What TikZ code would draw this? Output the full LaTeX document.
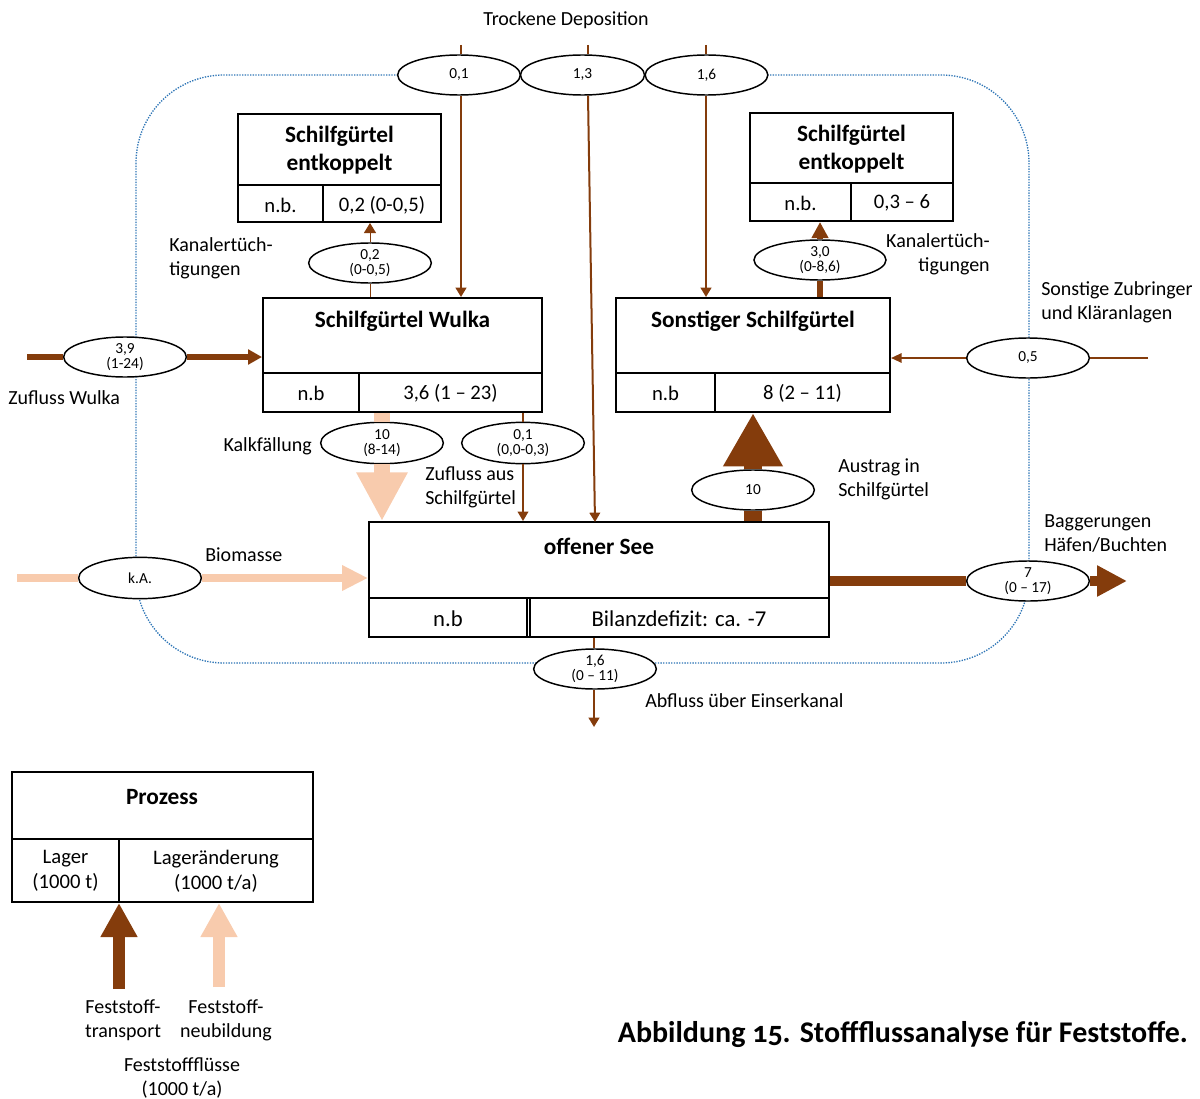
\documentclass[tikz,border=0pt]{standalone}
\usepackage{fontspec}
\setmainfont{Carlito}
\usetikzlibrary{arrows.meta,fit,shapes.geometric}

\definecolor{flowbrown}{HTML}{843C0C}
\definecolor{flowpeach}{HTML}{F8CBAD}
\definecolor{sysblue}{HTML}{2E75B6}

\tikzset{
  boxframe/.style={draw, line width=1.5pt, inner sep=0pt},
  boxline/.style={line width=1.5pt},
  boxtitle/.style={font=\fontsize{17.5}{21}\selectfont\bfseries, align=center, inner sep=0pt},
  boxcell/.style={font=\fontsize{15.5}{18.5}\selectfont, align=center, inner sep=0pt},
  flowval/.style={ellipse, draw, fill=white, line width=1.1pt, minimum width=92pt,
    minimum height=30pt, inner sep=0pt, align=center, font=\fontsize{11.5}{11}\selectfont},
  lbl/.style={font=\fontsize{15}{18}\selectfont, inner sep=0pt},
  sysborder/.style={draw=sysblue, line width=1pt, dash pattern=on 1pt off 1pt, rounded corners=66pt},
  thinflow/.style={draw=flowbrown, line width=1.5pt},
  thinnest/.style={draw=flowbrown, line width=0.75pt},
  thinhead/.style={-{Triangle[width=8pt,length=7pt]}},
  smallhead/.style={-{Triangle[width=9pt,length=7.5pt]}},
}

\begin{document}
\begin{tikzpicture}[x=0.75pt,y=-0.75pt]
\useasboundingbox (0,0) rectangle (1200,1099);

% system boundary
\draw[sysborder] (136,75) rectangle (1029,663);

% ---------- processes ----------
% Schilfguertel entkoppelt (left)
\node[boxframe, fit={(238,114)(441,222)}] (entkL) {};
\draw[boxline] (238,185) -- (441,185) (323,185) -- (323,222);
\node[boxtitle] (entkLt) at (339.5,150) {Schilfgürtel\\entkoppelt};
\node[boxcell] (entkLa) at (280.5,205) {n.b.};
\node[boxcell] (entkLb) at (382,205) {0,2 (0-0,5)};

% Schilfguertel entkoppelt (right)
\node[boxframe, fit={(750,113)(953,221)}] (entkR) {};
\draw[boxline] (750,183) -- (953,183) (851,183) -- (851,221);
\node[boxtitle] (entkRt) at (851.5,149) {Schilfgürtel\\entkoppelt};
\node[boxcell] (entkRa) at (800.5,203) {n.b.};
\node[boxcell] (entkRb) at (902,203) {0,3 – 6};

% Schilfguertel Wulka
\node[boxframe, fit={(263,298)(542,412)}] (wulka) {};
\draw[boxline] (263,373) -- (542,373) (359,373) -- (359,412);
\node[boxtitle] (wulkat) at (402.5,321) {Schilfgürtel Wulka};
\node[boxcell] (wulkaa) at (311,393) {n.b};
\node[boxcell] (wulkab) at (450.5,393) {3,6 (1 – 23)};

% Sonstiger Schilfguertel
\node[boxframe, fit={(616,298)(890,412)}] (sonst) {};
\draw[boxline] (616,373) -- (890,373) (715,373) -- (715,412);
\node[boxtitle] (sonstt) at (753,321) {Sonstiger Schilfgürtel};
\node[boxcell] (sonsta) at (665.5,393) {n.b};
\node[boxcell] (sonstb) at (802.5,393) {8 (2 – 11)};

% offener See
\node[boxframe, fit={(369,522)(829,637)}] (see) {};
\draw[boxline] (369,598) -- (829,598);
\draw[line width=1pt] (527,598) -- (527,637) (530,598) -- (530,637);
\node[boxtitle] (seet) at (599,546) {offener See};
\node[boxcell, font=\fontsize{17}{20}\selectfont] (seea) at (448,619) {n.b};
\node[boxcell, font=\fontsize{17}{20}\selectfont] (seeb) at (679,619) {Bilanzdefizit: ca. -7};

% ---------- flow values ----------
\node[flowval, minimum width=92pt] (e01) at (459,75) {0,1};
\node[flowval, minimum width=93pt] (e13) at (582.5,75) {1,3};
\node[flowval, minimum width=92pt] (e16) at (706.5,75) {1,6};
\node[flowval] (eKanL) at (370,263) {0,2\\(0-0,5)};
\node[flowval, minimum width=99pt] (eKanR) at (820,260) {3,0\\(0-8,6)};
\node[flowval] (eWulka) at (125,357) {3,9\\(1-24)};
\node[flowval, minimum height=31pt] (eKalk) at (382,443) {10\\(8-14)};
\node[flowval, minimum height=31pt] (eZuS) at (523,443) {0,1\\(0,0-0,3)};
\node[flowval] (eSonst) at (1028,358) {0,5};
\node[flowval] (eAustrag) at (753,490) {10};
\node[flowval, minimum height=31pt] (eBio) at (140,578) {k.A.};
\node[flowval] (eBagger) at (1028,581) {7\\(0 – 17)};
\node[flowval] (eAbfluss) at (595,669) {1,6\\(0 – 11)};

% ---------- connectors ----------
\coordinate (dep01) at (461,45);
\coordinate (dep13) at (588,45);
\coordinate (dep16) at (706,45);
\coordinate (lake13) at (595,522);

% dry deposition
\draw[thinflow] (dep01) -- (dep01 |- e01.north);
\draw[thinflow, thinhead] (dep01 |- e01.south) -- (dep01 |- wulka.north);
\draw[thinflow] (dep13) -- (dep13 |- e13.north);
\draw[thinflow, thinhead] (dep13 |- e13.south) -- (lake13);
\draw[thinflow] (dep16) -- (dep16 |- e16.north);
\draw[thinflow, thinhead] (dep16 |- e16.south) -- (dep16 |- sonst.north);

% channel upgrades
\draw[thinnest] (eKanL.south |- wulka.north) -- (eKanL.south);
\draw[thinnest, smallhead] (eKanL.north) -- (eKanL.north |- entkL.south);
\draw[draw=flowbrown, line width=4.5pt] (eKanR.south |- sonst.north) -- (eKanR.south);
\draw[draw=flowbrown, line width=4.5pt, -{Triangle[width=12pt,length=12pt]}] (eKanR.north) -- (eKanR.north |- entkR.south);

% inflow Wulka
\coordinate (wulkaIn) at (27,357);
\draw[draw=flowbrown, line width=4pt] (wulkaIn) -- (eWulka.west);
\draw[draw=flowbrown, line width=4pt, -{Triangle[width=11pt,length=10.5pt]}] (eWulka.east) -- (eWulka.east -| wulka.west);

% other tributaries
\coordinate (sonstIn) at (1148,358);
\draw[thinflow] (sonstIn) -- (eSonst.east);
\draw[thinflow, -{Triangle[width=7pt,length=8pt]}] (eSonst.west) -- (eSonst.west -| sonst.east);

% lime precipitation
\draw[draw=flowpeach, line width=12pt] (eKalk.north |- wulka.south) -- (eKalk.north);
\draw[draw=flowpeach, line width=12pt, -{Triangle[width=36pt,length=36.5pt]}] (eKalk.south) -- (eKalk.south |- see.north);

% inflow from reed belt
\draw[draw=flowbrown, line width=1pt] (eZuS.north |- wulka.south) -- (eZuS.north);
\draw[draw=flowbrown, line width=1pt, thinhead] (eZuS.south) -- (eZuS.south |- see.north);

% export into reed belt
\draw[draw=flowbrown, line width=13.5pt] (eAustrag.south |- see.north) -- (eAustrag.south);
\draw[draw=flowbrown, line width=13.5pt, -{Triangle[width=42pt,length=40pt]}] (eAustrag.north) -- (eAustrag.north |- sonst.south);

% biomass
\coordinate (bioIn) at (17,578);
\draw[draw=flowpeach, line width=6pt] (bioIn) -- (eBio.west);
\draw[draw=flowpeach, line width=6pt, -{Triangle[width=18pt,length=19.5pt]}] (eBio.east) -- (eBio.east -| see.west);

% dredging
\coordinate (baggerOut) at (1127,581);
\draw[draw=flowbrown, line width=7.5pt] (eBagger.west -| see.east) -- (eBagger.west);
\draw[draw=flowbrown, line width=7.5pt, -{Triangle[width=22pt,length=22.5pt]}] (eBagger.east) -- (baggerOut);

% outflow Einserkanal
\coordinate (abflussOut) at (594,727);
\draw[thinflow] (abflussOut |- see.south) -- (abflussOut |- eAbfluss.north);
\draw[thinflow, thinhead] (abflussOut |- eAbfluss.south) -- (abflussOut);

% ---------- labels ----------
\node[lbl] (lDep) at (566,20) {Trockene Deposition};
\node[lbl, anchor=west, align=left] (lKanL) at (169,258) {Kanalertüch-\\tigungen};
\node[lbl, anchor=east, align=right] (lKanR) at (990,254) {Kanalertüch-\\tigungen};
\node[lbl, anchor=west] (lWulka) at (8,398) {Zufluss Wulka};
\node[lbl, anchor=east] (lKalk) at (312,446) {Kalkfällung};
\node[lbl, anchor=west, align=left] (lZuS) at (425,487) {Zufluss aus\\Schilfgürtel};
\node[lbl, anchor=west, align=left] (lSonst) at (1041,302) {Sonstige Zubringer\\und Kläranlagen};
\node[lbl, anchor=west, align=left] (lAustrag) at (838,479) {Austrag in\\Schilfgürtel};
\node[lbl, anchor=west] (lBio) at (205,555) {Biomasse};
\node[lbl, anchor=west, align=left] (lBagger) at (1044,534) {Baggerungen\\Häfen/Buchten};
\node[lbl, anchor=west] (lAbfluss) at (645,701) {Abfluss über Einserkanal};

% ---------- legend ----------
\node[boxframe, fit={(12,772)(313,902)}] (legend) {};
\draw[boxline] (12,839) -- (313,839) (119,839) -- (119,902);
\node[boxtitle] (legt) at (162,797) {Prozess};
\node[boxcell] (lega) at (65.5,871) {Lager\\(1000 t)};
\node[boxcell] (legb) at (216,871) {Lageränderung\\(1000 t/a)};

\coordinate (legBrown) at (119,989);
\coordinate (legPeach) at (219,987);
\draw[draw=flowbrown, line width=9pt, -{Triangle[width=26pt,length=25.5pt]}] (legBrown) -- (legBrown |- legend.south);
\draw[draw=flowpeach, line width=9pt, -{Triangle[width=26pt,length=25.5pt]}] (legPeach) -- (legPeach |- legend.south);

\node[lbl, align=center] (lTrans) at (123,1020) {Feststoff-\\transport};
\node[lbl, align=center] (lNeu) at (226,1020) {Feststoff-\\neubildung};
\node[lbl, align=center] (lFlows) at (182,1078) {Feststoffflüsse\\(1000 t/a)};

% caption
\node[anchor=east, inner sep=0pt, font=\fontsize{22.5}{26}\selectfont\bfseries] (caption) at (1188,1034)
  {Abbildung {\addfontfeatures{Numbers=OldStyle}15}. Stoffflussanalyse für Feststoffe.};
\end{tikzpicture}
\end{document}
